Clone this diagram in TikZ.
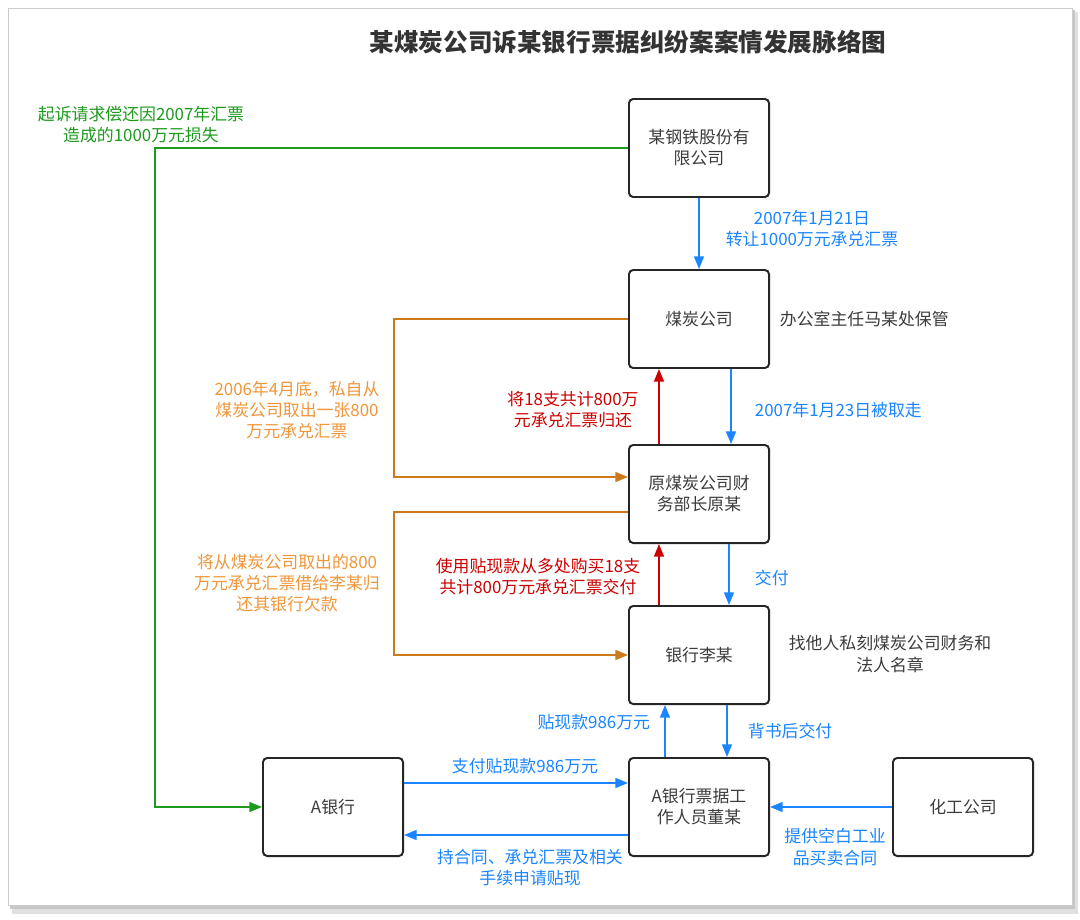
\documentclass[tikz,border=0pt]{standalone}
\usepackage{fontspec}
\setmainfont{Noto Sans CJK SC}
\usetikzlibrary{arrows.meta}

\definecolor{flowblue}{HTML}{1A85FF}
\definecolor{backred}{HTML}{CC0000}
\definecolor{takeorange}{HTML}{CC7A1A}
\definecolor{noteorange}{HTML}{F0963A}
\definecolor{suegreen}{HTML}{1E9A1E}
\definecolor{notegray}{HTML}{3C3C3C}

\begin{document}
\begin{tikzpicture}[x=0.025cm, y=-0.025cm, font=\fontsize{12}{15}\selectfont,
    party/.style={draw=black!85, line width=1.4pt, rounded corners=3pt, fill=white,
        minimum width=3.5cm, minimum height=2.45cm, align=center, text=notegray},
    tip/.style={-{Triangle[length=9pt, width=7pt]}},
    blueline/.style={tip, draw=flowblue, line width=1.4pt},
    redline/.style={tip, draw=backred, line width=1.4pt},
    orangeline/.style={tip, draw=takeorange, line width=1.4pt},
    greenline/.style={tip, draw=suegreen, line width=1.4pt},
    bluenote/.style={text=flowblue, align=center},
    rednote/.style={text=backred, align=center},
    orangenote/.style={text=noteorange, align=center},
    greennote/.style={text=suegreen, align=center},
    graynote/.style={text=notegray, align=center}]
    % Page and shadow
    \useasboundingbox (0,0) rectangle (1080,920);
    \fill[black!12] (12,12) rectangle (1078,914);
    \fill[black!22] (10,10) rectangle (1075,909);
    \filldraw[fill=white, draw=black!20] (8,8) rectangle (1072,905);

    % Title
    \node (title) at (628,42) {\fontsize{17.5}{20}\selectfont\bfseries\color{black!80}某煤炭公司诉某银行票据纠纷案案情发展脉络图};

    % Parties
    \node[party] (steel) at (699,148) {某钢铁股份有\\限公司};
    \node[party] (coal) at (699,319) {煤炭公司};
    \node[party] (yuan) at (699,494) {原煤炭公司财\\务部长原某};
    \node[party] (li) at (699,655) {银行李某};
    \node[party] (dong) at (699,807) {A银行票据工\\作人员董某};
    \node[party] (abank) at (333,807) {A银行};
    \node[party] (chem) at (963,807) {化工公司};

    % Bill handed down the chain
    \draw[blueline] (steel.south) -- (coal.north);
    \draw[blueline] ([xshift=0.8cm]coal.south) -- ([xshift=0.8cm]yuan.north);
    \draw[blueline] ([xshift=0.75cm]yuan.south) -- ([xshift=0.75cm]li.north);
    \draw[blueline] ([xshift=0.7cm]li.south) -- ([xshift=0.7cm]dong.north);
    \draw[blueline] ([xshift=-0.85cm]dong.north) -- ([xshift=-0.85cm]li.south);

    % Bills given back
    \draw[redline] ([xshift=-1cm]yuan.north) -- ([xshift=-1cm]coal.south);
    \draw[redline] ([xshift=-1cm]li.north) -- ([xshift=-1cm]yuan.south);

    % Discount at A bank
    \draw[blueline] ([yshift=0.6cm]abank.east) -- ([yshift=0.6cm]dong.west);
    \draw[blueline] ([yshift=-0.7cm]dong.west) -- ([yshift=-0.7cm]abank.east);
    \draw[blueline] (chem.west) -- (dong.east);

    % Bills taken out privately
    \draw[orangeline] (coal.west) -- ++(-234,0) |- ([yshift=0.425cm]yuan.west);
    \draw[orangeline] ([yshift=-0.45cm]yuan.west) -- ++(-234,0) |- (li.west);

    % Lawsuit
    \coordinate (sueturn) at (155,148);
    \draw[greenline] (steel.west) -- (sueturn) |- (abank.west);

    % Labels
    \node[bluenote] (l1) at (812,229) {2007年1月21日\\转让1000万元承兑汇票};
    \node[bluenote, anchor=west] (l2) at (750,410) {2007年1月23日被取走};
    \node[bluenote, anchor=west] (l3) at (750,578) {交付};
    \node[bluenote, anchor=west] (l4) at (743,731) {背书后交付};
    \node[bluenote, anchor=east] (l5) at (655,722) {贴现款986万元};
    \node[bluenote] (l6) at (525,766) {支付贴现款986万元};
    \node[bluenote] (l7) at (530,868) {持合同、承兑汇票及相关\\手续申请贴现};
    \node[bluenote] (l8) at (835,847) {提供空白工业\\品买卖合同};
    \node[rednote] (r1) at (573,410) {将18支共计800万\\元承兑汇票归还};
    \node[rednote] (r2) at (538,577) {使用贴现款从多处购买18支\\共计800万元承兑汇票交付};
    \node[orangenote] (o1) at (297,410) {2006年4月底，私自从\\煤炭公司取出一张800\\万元承兑汇票};
    \node[orangenote] (o2) at (287,583) {将从煤炭公司取出的800\\万元承兑汇票借给李某归\\还其银行欠款};
    \node[greennote] (g1) at (141,125) {起诉请求偿还因2007年汇票\\造成的1000万元损失};
    \node[graynote, anchor=west] (n1) at (775,319) {办公室主任马某处保管};
    \node[graynote] (n2) at (890,654) {找他人私刻煤炭公司财务和\\法人名章};
\end{tikzpicture}
\end{document}
